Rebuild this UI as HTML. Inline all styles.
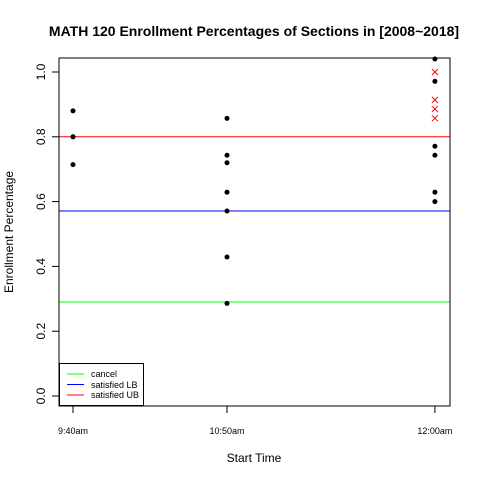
<!DOCTYPE html>
<html><head><meta charset="utf-8"><style>
body{margin:0;background:#fff}
svg text{font-family:"Liberation Sans",Arial,sans-serif}
</style></head><body>
<svg id="chart" width="480" height="480" xmlns="http://www.w3.org/2000/svg">
<rect width="480" height="480" fill="#fff"/>
<text x="254" y="36" text-anchor="middle" font-size="14" font-weight="bold">MATH 120 Enrollment Percentages of Sections in [2008~2018]</text>
<text x="254" y="462" text-anchor="middle" font-size="12">Start Time</text>
<text transform="translate(13,232) rotate(-90)" text-anchor="middle" font-size="12">Enrollment Percentage</text>
<g id="axes"></g>
<g id="lines"></g>
<g id="marks"></g>
<rect x="59" y="58" width="391" height="348" fill="none" stroke="#000" stroke-width="1"/>
<g>
<rect x="59.5" y="363.5" width="84" height="42" fill="#fff" stroke="#000"/>
<line x1="67" y1="374" x2="84" y2="374" stroke="#00ff00"/>
<text x="91" y="377" font-size="9">cancel</text>
<line x1="67" y1="384.5" x2="84" y2="384.5" stroke="#0000ff"/>
<text x="91" y="388" font-size="9">satisfied LB</text>
<line x1="67" y1="395" x2="84" y2="395" stroke="#ff0000"/>
<text x="91" y="398" font-size="9">satisfied UB</text>
</g>
</svg>
<script>
const categories = ["9:40am", "10:50am", "12:00am"];
const catX = [1, 2, 3.35];
const yTicks = [0, 0.2, 0.4, 0.6, 0.8, 1.0];
const yTickLabels = ["0.0", "0.2", "0.4", "0.6", "0.8", "1.0"];
const pointCat = [0,0,0, 1,1,1,1,1,1,1, 2,2,2,2,2,2];
const pointVal = [0.88,0.80,0.714, 0.857,0.743,0.72,0.629,0.571,0.429,0.286, 1.04,0.971,0.771,0.743,0.629,0.60];
const crossCat = [2,2,2,2];
const crossVal = [1.0,0.914,0.886,0.857];
const refNames = ["cancel","satisfied-lb","satisfied-ub"];
const refVals = [0.29, 0.571, 0.80];
const refColors = ["#00ff00","#0000ff","#ff0000"];

const NS = "http://www.w3.org/2000/svg";
const xs = v => 73 + (v - 1) * 154;
const ys = v => 396 - v * 324;
function mk(tag, attrs, parent) {
  const e = document.createElementNS(NS, tag);
  for (const k in attrs) e.setAttribute(k, attrs[k]);
  parent.appendChild(e);
  return e;
}
const axes = document.getElementById('axes');
const lines = document.getElementById('lines');
const marks = document.getElementById('marks');
yTicks.forEach((t, i) => {
  const y = ys(t);
  const l = mk('line', {x1: 52, x2: 59, y1: y, y2: y, stroke: '#000'}, axes);
  
  
  const tx = mk('text', {transform: `translate(45,${y}) rotate(-90)`, 'text-anchor': 'middle', 'font-size': 12}, axes);
  tx.textContent = yTickLabels[i];
  
  
});
categories.forEach((c, i) => {
  const x = xs(catX[i]);
  const l = mk('line', {x1: x, x2: x, y1: 406, y2: 413, stroke: '#000'}, axes);
  
  
  const tx = mk('text', {x: x, y: 434, 'text-anchor': 'middle', 'font-size': 9}, axes);
  tx.textContent = c;
  
  
});
refVals.forEach((v, i) => {
  const y = ys(v);
  const l = mk('line', {x1: 59, x2: 450, y1: y, y2: y, stroke: refColors[i]}, lines);
  
  
});
pointVal.forEach((v, i) => {
  const c = mk('circle', {cx: xs(catX[pointCat[i]]), cy: ys(v), r: 2.5, fill: '#000'}, marks);
  
  
});
crossVal.forEach((v, i) => {
  const x = xs(catX[crossCat[i]]), y = ys(v);
  const p = mk('path', {d: `M${x-3},${y-3}L${x+3},${y+3}M${x-3},${y+3}L${x+3},${y-3}`, stroke: '#ff0000', 'stroke-width': 1}, marks);
  
  
});
</script>
</body></html>
